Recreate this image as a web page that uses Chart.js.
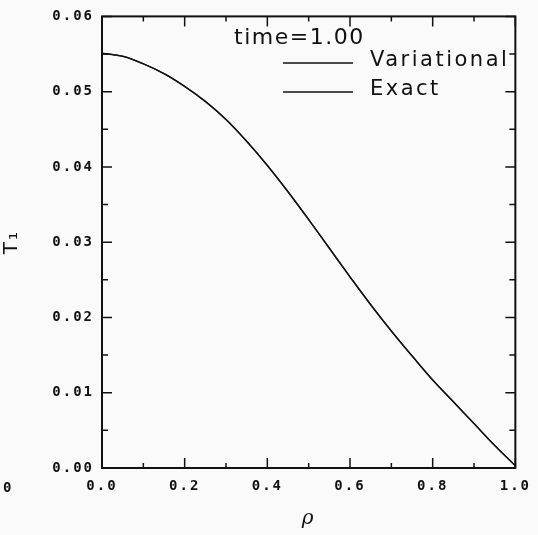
<!DOCTYPE html>
<html>
<head>
<meta charset="utf-8">
<script src="https://cdn.jsdelivr.net/npm/chart.js@4.4.1/dist/chart.umd.min.js"></script>
<style>
  html, body { margin: 0; padding: 0; background: #fafafa; }
  #wrap { width: 538px; height: 535px; position: relative; }
</style>
</head>
<body>
<div id="wrap"><canvas id="plot"></canvas></div>
<script>
// radial position rho and T1 at time = 1.00
const rho = [0, 0.05, 0.1, 0.15, 0.2, 0.25, 0.3, 0.35, 0.4, 0.45, 0.5,
             0.55, 0.6, 0.65, 0.7, 0.75, 0.8, 0.85, 0.9, 0.95, 1.0];
const variational = [0.0551, 0.0547, 0.0537, 0.0524, 0.0507, 0.0487, 0.0463, 0.0434, 0.0402, 0.0367, 0.0330,
                     0.0292, 0.0254, 0.0217, 0.0182, 0.0149, 0.0117, 0.0088, 0.0059, 0.0030, 0.0003];
const exact = [0.0551, 0.0547, 0.0537, 0.0524, 0.0507, 0.0487, 0.0463, 0.0434, 0.0402, 0.0367, 0.0330,
               0.0292, 0.0254, 0.0217, 0.0182, 0.0149, 0.0117, 0.0088, 0.0059, 0.0030, 0.0003];
const seriesNames = ['Variational', 'Exact'];
const xTicks = [0, 0.2, 0.4, 0.6, 0.8, 1.0];
const yTicks = [0, 0.01, 0.02, 0.03, 0.04, 0.05, 0.06];
const timeLabel = 'time=1.00';

const pts = ys => rho.map((r, i) => ({ x: r, y: ys[i] }));
const tickFont = { family: 'DejaVu Sans Mono', size: 14, weight: 'bold' };

// frame with inward ticks on all four sides, legend, stray label
const framePlugin = {
  id: 'frame',
  beforeDraw(chart) {
    chart.ctx.letterSpacing = '2px';
  },
  afterDraw(chart) {
    const { ctx, chartArea: a, scales: { x, y } } = chart;
    ctx.save();
    ctx.letterSpacing = '0px';
    ctx.strokeStyle = '#111';
    ctx.lineWidth = 2;
    ctx.strokeRect(a.left, a.top, a.right - a.left, a.bottom - a.top);
    ctx.lineWidth = 1.5;
    ctx.beginPath();
    for (let v = 0; v <= 1.0001; v += 0.1) {
      const px = x.getPixelForValue(v);
      const len = Math.round(v * 10) % 2 === 0 ? 10 : 5;
      ctx.moveTo(px, a.bottom); ctx.lineTo(px, a.bottom - len);
      ctx.moveTo(px, a.top); ctx.lineTo(px, a.top + len);
    }
    for (let v = 0; v <= 0.0601; v += 0.005) {
      const py = y.getPixelForValue(v);
      const len = Math.round(v * 200) % 2 === 0 ? 10 : 6;
      ctx.moveTo(a.left, py); ctx.lineTo(a.left + len, py);
      ctx.moveTo(a.right, py); ctx.lineTo(a.right - len, py);
    }
    ctx.stroke();

    // legend block
    ctx.fillStyle = '#111';
    ctx.textBaseline = 'middle';
    ctx.textAlign = 'left';
    ctx.font = '22px "DejaVu Sans"';
    ctx.letterSpacing = '1.5px';
    ctx.fillText(timeLabel, 234, 38);
    ctx.font = '21px "DejaVu Sans"';
    ctx.letterSpacing = '2.5px';
    const rows = [61, 90];
    seriesNames.forEach((name, i) => {
      ctx.lineWidth = 1.5;
      ctx.beginPath();
      ctx.moveTo(283, rows[i] + 2); ctx.lineTo(353, rows[i] + 2);
      ctx.stroke();
      ctx.fillText(name, 370, rows[i]);
    });

    // stray label from the neighbouring panel
    ctx.font = 'bold 14px "DejaVu Sans Mono"';
    ctx.letterSpacing = '0px';
    ctx.fillText('0', 3, 488);
    ctx.restore();
  }
};

new Chart(document.getElementById('plot'), {
  type: 'line',
  data: {
    datasets: [
      { label: seriesNames[0], data: pts(variational), borderColor: '#111', borderWidth: 1.5,
        pointRadius: 0, tension: 0.4 },
      { label: seriesNames[1], data: pts(exact), borderColor: '#111', borderWidth: 1.2,
        pointRadius: 0, tension: 0.4 }
    ]
  },
  options: {
    responsive: true,
    maintainAspectRatio: false,
    animation: false,
    layout: { padding: { left: 0, top: 11, right: 20, bottom: 0 } },
    plugins: { legend: { display: false }, tooltip: { enabled: false } },
    scales: {
      x: {
        type: 'linear', min: 0, max: 1.0,
        afterBuildTicks: s => { s.ticks = xTicks.map(v => ({ value: v })); },
        afterFit: s => { s.height = 67; },
        grid: { display: false, drawTicks: false },
        border: { display: false },
        ticks: { color: '#111', font: tickFont, padding: 10, maxRotation: 0,
                  callback: v => v.toFixed(1) },
        title: { display: true, text: 'ρ', color: '#111', padding: { top: 10 },
                 font: { family: 'DejaVu Serif', style: 'italic', size: 20 } }
      },
      y: {
        min: 0, max: 0.06,
        afterBuildTicks: s => { s.ticks = yTicks.map(v => ({ value: v })); },
        afterFit: s => { s.width = 102; },
        grid: { display: false, drawTicks: false },
        border: { display: false },
        ticks: { color: '#111', font: tickFont, padding: 8,
                 callback: v => v.toFixed(2) },
        title: { display: true, text: 'T₁', color: '#111', padding: { top: 0, bottom: 0 },
                 font: { family: 'DejaVu Sans', size: 20 } }
      }
    }
  },
  plugins: [framePlugin]
});
</script>
</body>
</html>
